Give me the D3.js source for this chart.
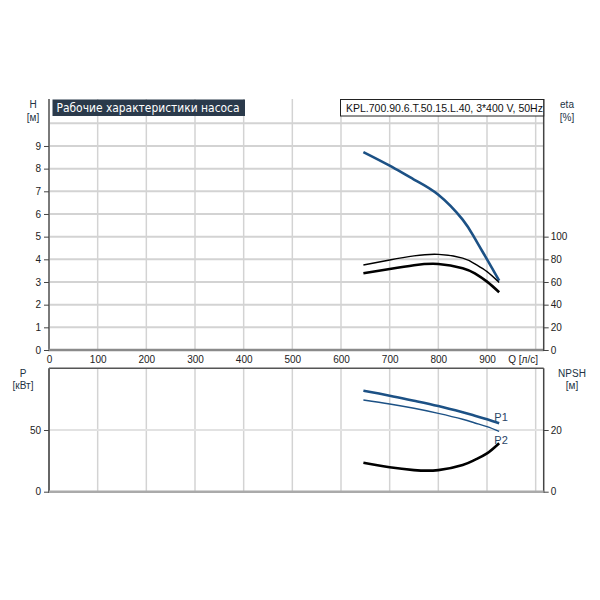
<!DOCTYPE html>
<html><head><meta charset="utf-8">
<script src="https://cdn.jsdelivr.net/npm/d3@7"></script>
<style>body{margin:0;background:#fff}svg{display:block}</style>
</head><body>
<svg id="c" width="600" height="600"></svg>
<script>
// ---- data ----
const titleText = "Рабочие характеристики насоса";
const modelText = "KPL.700.90.6.T.50.15.L.40, 3*400 V, 50Hz";
const qTicks = [0,100,200,300,400,500,600,700,800,900];
const hTicks = [0,1,2,3,4,5,6,7,8,9];
const etaTicks = [0,20,40,60,80,100];
const pTicks = [0,50];
const npshTicks = [0,20];
const Q    = [646, 700, 750, 800, 850, 875, 900, 925];
const H    = [8.73, 8.13, 7.52, 6.85, 5.75, 4.92, 4.0, 3.06];
const eta1 = [75.0, 79.4, 83.0, 84.4, 81.0, 76.0, 69.1, 59.5];
const eta2 = [67.7, 71.5, 74.8, 75.9, 72.2, 67.6, 60.3, 50.9];
const P1   = [81.8, 77.8, 73.7, 69.4, 64.3, 61.6, 58.7, 55.4];
const P2   = [74.3, 71.1, 67.6, 63.5, 58.7, 55.7, 52.7, 48.9];
const NPSH = [9.4, 7.9, 7.0, 7.0, 8.65, 10.3, 12.4, 15.7];

// ---- scales ----
const svg = d3.select("#c");
const x = d3.scaleLinear().domain([0, 1016.5]).range([49, 543.7]);
const yH = d3.scaleLinear().domain([0, 10]).range([350, 123.3]);
const yEta = d3.scaleLinear().domain([0, 200]).range([350, 123.3]);
const topY = 99;
const yP = d3.scaleLinear().domain([0, 100]).range([491.7, 368.3]);
const yN = d3.scaleLinear().domain([0, 40]).range([491.7, 368.3]);
const X0 = x(0), X1 = x(1016.5);
const gridC = "#d3d3d3";
const blue = "#1c5185";
const labC = "#223344";

// grid top
const gTop = svg.append("g");
gTop.selectAll(".vg").data(d3.range(100, 1001, 100)).join("line")
  .attr("x1", d => x(d)).attr("x2", d => x(d)).attr("y1", topY).attr("y2", 350)
  .attr("stroke", gridC).attr("stroke-width", 1.5);
gTop.selectAll(".hg").data(d3.range(1, 11)).join("line")
  .attr("x1", X0).attr("x2", X1).attr("y1", d => yH(d)).attr("y2", d => yH(d))
  .attr("stroke", gridC).attr("stroke-width", 2);
// grid bottom
const gBot = svg.append("g");
gBot.selectAll(".vg").data(d3.range(100, 1001, 100)).join("line")
  .attr("x1", d => x(d)).attr("x2", d => x(d)).attr("y1", yP(100)).attr("y2", yP(0))
  .attr("stroke", gridC).attr("stroke-width", 1.5);
gBot.append("line").attr("x1", X0).attr("x2", X1).attr("y1", yP(50)).attr("y2", yP(50))
  .attr("stroke", "#e2e2e2").attr("stroke-width", 2);

// axis lines
function ln(x1,y1,x2,y2,c,w){svg.append("line").attr("x1",x1).attr("y1",y1).attr("x2",x2).attr("y2",y2).attr("stroke",c).attr("stroke-width",w);}
ln(X0, topY, X0, 351, "#7a7a7a", 2);
ln(X0-1, 350, X1, 350, "#8a8a8a", 2.5);
ln(X1, topY, X1, 351, "#444", 1.5);
ln(X0, yP(100), X1, yP(100), "#555", 1.5);
ln(X0, yP(100), X0, yP(0)+1, "#666", 2);
ln(X1, yP(100), X1, yP(0)+1, "#444", 1.5);
ln(X0, yP(0), X1, yP(0), "#aaaaaa", 2.5);

// axes (ticks)
function styleAxis(g){
  g.select(".domain").remove();
  g.selectAll(".tick line").attr("stroke", "#444");
  g.selectAll(".tick text").attr("fill", "#222").style("font-family", "Liberation Sans, Arial, sans-serif").style("font-size", "10px");
}
svg.append("g").attr("transform", `translate(${X0},0)`)
  .call(d3.axisLeft(yH).tickValues(hTicks).tickSize(5).tickPadding(3).tickFormat(d3.format("d"))).call(styleAxis);
svg.append("g").attr("transform", `translate(0,350)`)
  .call(d3.axisBottom(x).tickValues(qTicks).tickSize(0).tickPadding(6).tickFormat(d3.format("d"))).call(styleAxis);
svg.append("g").attr("transform", `translate(${X1},0)`)
  .call(d3.axisRight(yEta).tickValues(etaTicks).tickSize(5).tickPadding(2).tickFormat(d3.format("d"))).call(styleAxis);
svg.append("g").attr("transform", `translate(${X0},0)`)
  .call(d3.axisLeft(yP).tickValues(pTicks).tickSize(5).tickPadding(3).tickFormat(d3.format("d"))).call(styleAxis);
svg.append("g").attr("transform", `translate(${X1},0)`)
  .call(d3.axisRight(yN).tickValues(npshTicks).tickSize(5).tickPadding(2).tickFormat(d3.format("d"))).call(styleAxis);

// curves
function curve(vals, ys, color, w){
  const line = d3.line().x((d,i) => x(Q[i])).y(d => ys(d)).curve(d3.curveNatural);
  svg.append("path").attr("d", line(vals)).attr("fill","none").attr("stroke",color).attr("stroke-width",w).attr("stroke-linecap","butt");
}
curve(H, yH, blue, 2.6);
curve(eta1, yEta, "#000", 1.4);
curve(eta2, yEta, "#000", 2.6);
curve(P1, yP, blue, 2.6);
curve(P2, yP, blue, 1.4);
curve(NPSH, yN, "#000", 2.6);

// text helpers
function txt(s, tx, ty, anchor, size, color, family){
  return svg.append("text").attr("x", tx).attr("y", ty).attr("text-anchor", anchor)
    .attr("fill", color).style("font-family", family || "Liberation Sans, Arial, sans-serif")
    .style("font-size", size + "px").text(s);
}
// title box
svg.append("rect").attr("x", 52.5).attr("y", 99.5).attr("width", 192.5).attr("height", 16.5).attr("fill", "#2b3a4b");
txt(titleText, 56.5, 112.3, "start", 11.5, "#ffffff", "DejaVu Sans, Verdana, sans-serif")
  .attr("textLength", 183).attr("lengthAdjust", "spacingAndGlyphs");
// model box
svg.append("rect").attr("x", 340.5).attr("y", 99.5).attr("width", 203.2).attr("height", 16.5).attr("fill", "#fff").attr("stroke", "#222").attr("stroke-width", 1);
txt(modelText, 346, 112, "start", 10.5, "#111");

// axis titles
txt("H", 33, 108, "middle", 10, labC);
txt("[м]", 33, 121, "middle", 10, labC);
txt("eta", 567, 108, "middle", 10, labC);
txt("[%]", 567, 121, "middle", 10, labC);
txt("Q [л/с]", 538, 363, "end", 10, "#222");
txt("P", 23, 377, "middle", 10, labC);
txt("[кВт]", 23, 389, "middle", 10, labC);
txt("NPSH", 572, 377, "middle", 10, labC);
txt("[м]", 572, 389, "middle", 10, labC);
txt("P1", x(915), yP(55.4) - 2, "start", 11, "#2a4466");
txt("P2", x(915), yP(48.9) + 13, "start", 11, "#2a4466");
</script>
</body></html>
